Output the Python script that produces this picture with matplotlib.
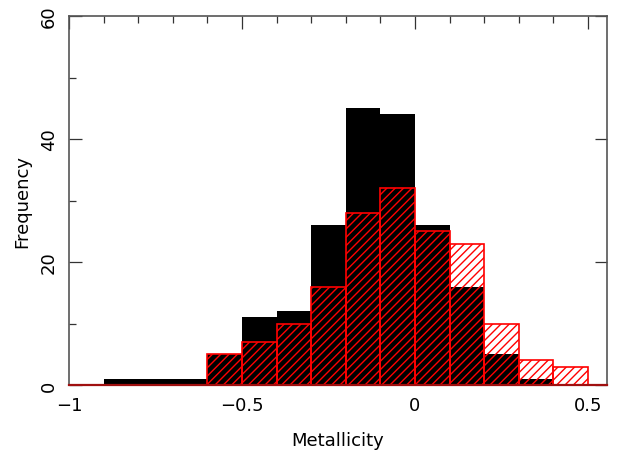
import matplotlib
matplotlib.use("Agg")
import matplotlib.pyplot as plt
from matplotlib.ticker import MultipleLocator

# Histogram data, 0.1-wide bins, given by left bin edge
black_left = [-0.9, -0.8, -0.7, -0.6, -0.5, -0.4, -0.3, -0.2, -0.1, 0.0, 0.1, 0.2, 0.3]
black_counts = [1, 1, 1, 5, 11, 12, 26, 45, 44, 26, 16, 5, 1]
red_left = [-0.6, -0.5, -0.4, -0.3, -0.2, -0.1, 0.0, 0.1, 0.2, 0.3, 0.4]
red_counts = [5, 7, 10, 16, 28, 32, 25, 23, 10, 4, 3]
BIN_W = 0.1

plt.rcParams["font.family"] = "DejaVu Sans"
plt.rcParams["hatch.linewidth"] = 1.0
plt.rcParams["hatch.color"] = "#ff0000"

fig = plt.figure(figsize=(6.17, 4.60), dpi=100)
ax = fig.add_axes([69 / 617, 1 - 386 / 460, (607 - 69) / 617, (386 - 17) / 460])

ax.bar(black_left, black_counts, width=BIN_W, align="edge",
       color="black", linewidth=0, zorder=2)
ax.bar(red_left, red_counts, width=BIN_W, align="edge",
       facecolor="none", edgecolor="#ff0000", hatch="////", linewidth=1.2, zorder=3)

ax.set_xlim(-1.0, 0.555)
ax.set_ylim(0, 60)

ax.xaxis.set_major_locator(MultipleLocator(0.5))
ax.xaxis.set_minor_locator(MultipleLocator(0.1))
ax.yaxis.set_major_locator(MultipleLocator(20))
ax.yaxis.set_minor_locator(MultipleLocator(10))
ax.tick_params(which="both", direction="in", top=True, right=True, bottom=False,
               color="#333333", width=0.9)
ax.tick_params(which="major", length=9, labelsize=13, pad=8)
ax.tick_params(which="minor", length=5)
ax.yaxis.set_tick_params(which="minor", right=False, left=True)
ax.set_xticks([-1, -0.5, 0, 0.5])
ax.set_xticklabels(["\u22121", "\u22120.5", "0", "0.5"])
for lab in ax.get_yticklabels():
    lab.set_rotation(90)
    lab.set_va("center")

for side in ["left", "top", "right"]:
    ax.spines[side].set_color("#555555")
    ax.spines[side].set_linewidth(1.2)
ax.spines["bottom"].set_color("#a01010")
ax.spines["bottom"].set_linewidth(1.6)
ax.spines["bottom"].set_zorder(4)

ax.set_xlabel("Metallicity", fontsize=13, labelpad=12)
ax.set_ylabel("Frequency", fontsize=13, labelpad=6)

fig.savefig("out.png", dpi=100)
